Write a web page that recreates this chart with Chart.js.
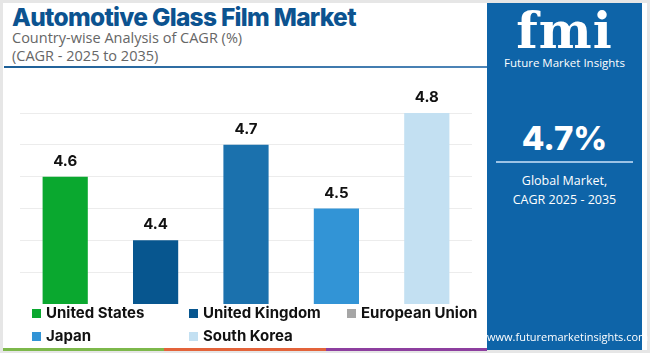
<!DOCTYPE html>
<html><head><meta charset="utf-8">
<script src="https://cdn.jsdelivr.net/npm/chart.js@4/dist/chart.umd.min.js"></script>
<style>
html,body{margin:0;padding:0;}
body{width:650px;height:353px;background:#e6e6e6;position:relative;overflow:hidden;font-family:"Open Sans",sans-serif;}
#card{position:absolute;left:3px;top:3px;width:644px;height:347px;background:#fff;}
#title{position:absolute;left:12px;top:2px;font-family:Inter,sans-serif;font-weight:800;font-size:24.5px;color:#0c5390;letter-spacing:-0.7px;white-space:nowrap;}
.sub{position:absolute;left:12px;font-family:"Open Sans",sans-serif;font-size:14.5px;color:#666;white-space:nowrap;}
#rule{position:absolute;left:4px;top:66px;width:483px;height:2px;background:linear-gradient(90deg,#1d5f97,#4f86b8);}
#wrap{position:absolute;left:20px;top:80px;width:452px;height:224px;}
#legend{position:absolute;left:32px;top:303px;width:460px;font-family:Inter,sans-serif;font-weight:700;font-size:15px;color:#111;}
.li{position:absolute;white-space:nowrap;}
.sw{display:inline-block;width:9px;height:9px;margin-right:5px;vertical-align:0px;}
#stripes{position:absolute;left:3px;top:348px;width:484px;height:3px;display:flex;}
#panel{position:absolute;left:487px;top:3px;width:155px;height:347px;background:#0e64a8;color:#fff;text-align:center;}
</style></head><body>
<div id="card"></div>
<div id="title">Automotive Glass Film Market</div>
<div class="sub" style="top:28px">Country-wise Analysis of CAGR (%)</div>
<div class="sub" style="top:46px">(CAGR - 2025 to 2035)</div>
<div id="rule"></div>
<div id="wrap"><canvas id="c"></canvas></div>
<div id="legend"></div>
<div id="stripes"><div style="flex:1;background:#7db84b"></div><div style="flex:1;background:#e3633a"></div><div style="flex:1;background:#8d3f9f"></div></div>
<div id="panel">
  <div style="position:absolute;left:0;right:0;top:0px;font-family:'DejaVu Serif',serif;font-weight:bold;font-size:50px;line-height:56px;letter-spacing:1px;">fmi</div>
  <div style="position:absolute;left:0;right:0;top:52px;font-family:'Open Sans',sans-serif;font-size:11.5px;">Future Market Insights</div>
  <div style="position:absolute;left:0;right:0;top:114px;font-family:Inter,sans-serif;font-weight:800;font-size:33px;line-height:42px;">4.7%</div>
  <div style="position:absolute;left:9px;right:9px;top:158px;height:1.5px;background:#9cc3e6;"></div>
  <div style="position:absolute;left:0;right:0;top:168px;font-family:'Open Sans',sans-serif;font-size:12.5px;line-height:19px;">Global Market,<br>CAGR 2025 - 2035</div>
  <div style="position:absolute;left:0;right:0;top:326px;font-family:'Open Sans',sans-serif;font-size:11px;">www.futuremarketinsights.com</div>
</div>
<script>
const categories = ["United States","United Kingdom","European Union","Japan","South Korea"];
const cagrValues = [4.6, 4.4, 4.7, 4.5, 4.8];
const barColors = ["#0aa82f","#07568f","#1b71ad","#3294d6","#c3e0f2"];
const legendColors = ["#0aa82f","#07568f","#a6a6a6","#3294d6","#c3e0f2"];

// legend (HTML, from arrays)
const lg = document.getElementById('legend');
const pos = [[0,0],[157,0],[315,0],[0,23],[157,23]];
categories.forEach((c,i)=>{
  const d=document.createElement('div');d.className='li';
  d.style.left=pos[i][0]+'px';d.style.top=pos[i][1]+'px';
  d.innerHTML='<span class="sw" style="background:'+legendColors[i]+'"></span>'+c;
  lg.appendChild(d);
});

const labelPlugin = {
  id:'vals',
  afterDatasetsDraw(chart){
    const ctx=chart.ctx;const meta=chart.getDatasetMeta(0);
    ctx.save();ctx.font='bold 15px Inter, sans-serif';ctx.fillStyle='#111';ctx.textAlign='center';ctx.textBaseline='bottom';
    meta.data.forEach((b,i)=>{ctx.fillText(cagrValues[i].toFixed(1), b.x, b.y-8);});
    ctx.restore();
  }
};

new Chart(document.getElementById('c'),{
  type:'bar',
  data:{labels:categories,datasets:[{data:cagrValues,backgroundColor:barColors,borderWidth:0,categoryPercentage:1,barPercentage:0.5}]},
  options:{
    responsive:true,maintainAspectRatio:false,animation:false,
    layout:{padding:{top:33,left:0,right:0,bottom:0}},
    plugins:{legend:{display:false},tooltip:{enabled:false}},
    scales:{
      x:{display:false},
      y:{min:4.2,max:4.8,ticks:{display:false,stepSize:0.1},border:{display:false},
         grid:{color:'#ececec',lineWidth:1,drawTicks:false},
         afterFit(s){s.width=0;}}
    }
  },
  plugins:[labelPlugin]
});
</script>
</body></html>
